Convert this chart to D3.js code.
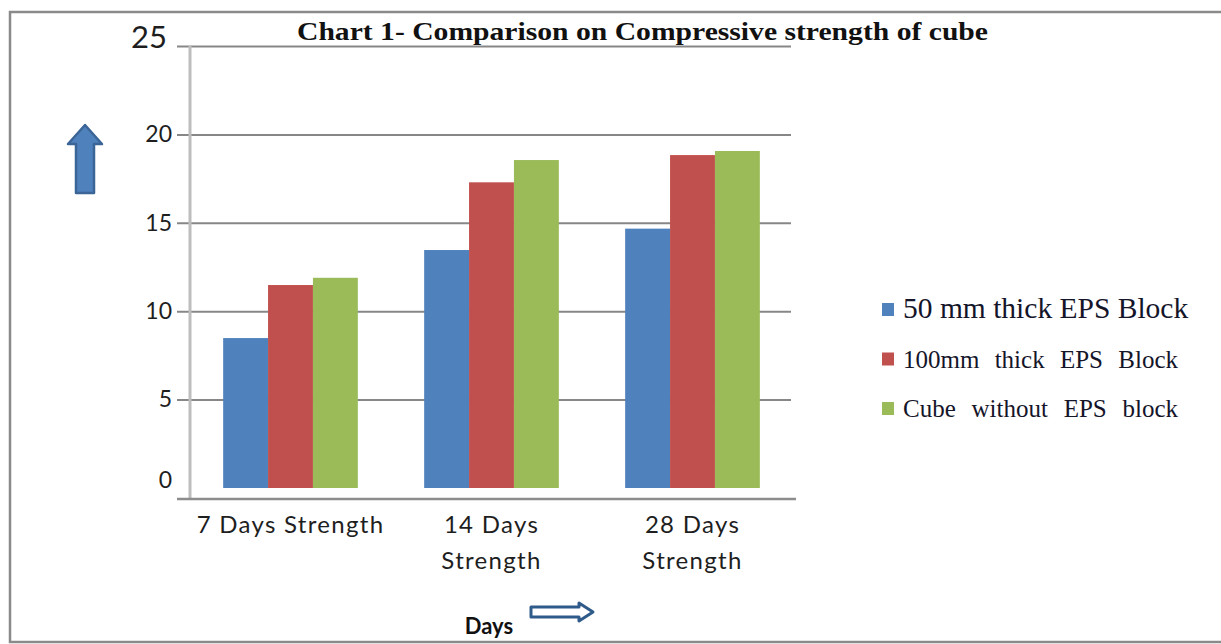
<!DOCTYPE html>
<html>
<head>
<meta charset="utf-8">
<script src="https://cdn.jsdelivr.net/npm/d3@7"></script>
<style>
  html, body { margin: 0; padding: 0; background: #fff; }
  svg { display: block; }
</style>
</head>
<body>
<svg id="chart" width="1221" height="644"></svg>
<script>
// Compressive strength (N/mm²) of cubes at each curing age
const categories = [["7 Days Strength"], ["14 Days", "Strength"], ["28 Days", "Strength"]];
const categoryKeys = ["7d", "14d", "28d"];
const seriesNames = ["50 mm thick EPS Block", "100mm  thick  EPS  Block", "Cube  without  EPS  block"];
const eps50 = [8.48, 13.46, 14.67];
const eps100 = [11.48, 17.29, 18.83];
const noEps = [11.89, 18.55, 19.06];
const seriesValues = [eps50, eps100, noEps];
const yTicks = [0, 5, 10, 15, 20, 25];
const colors = ["#4f81bd", "#c0504d", "#9bbb59"];

const svg = d3.select("#chart");
const labelFont = "Lato, 'Open Sans', sans-serif";
const serifFont = "'Liberation Serif', 'DejaVu Serif', serif";

// outer frame
svg.append("rect")
  .attr("x", 10).attr("y", 12).attr("width", 1225).attr("height", 630)
  .attr("fill", "#fff").attr("stroke", "#8a8a8a").attr("stroke-width", 2.5);

const plot = { left: 190, right: 793, top: 46, zero: 488, axisY: 499 };

const x0 = d3.scaleBand()
  .domain(categoryKeys)
  .range([plot.left, plot.right])
  .paddingInner(0.33)
  .paddingOuter(0.165);

const x1 = d3.scaleBand()
  .domain(d3.range(seriesNames.length))
  .range([0, x0.bandwidth()]);

const y = d3.scaleLinear().domain([0, 25]).range([plot.zero, plot.top]);

// gridlines and tick labels
const yAxis = svg.append("g")
  .attr("transform", `translate(${plot.left},0)`)
  .call(d3.axisLeft(y).tickValues(yTicks).tickSize(0).tickPadding(18));
yAxis.select(".domain").remove();
yAxis.selectAll(".tick line")
  .filter(d => d !== 0)
  .attr("x1", -13).attr("x2", 601)
  .attr("stroke", "#878787").attr("stroke-width", 2);
yAxis.selectAll(".tick text")
  .attr("font-family", labelFont)
  .attr("font-size", 23)
  .attr("fill", "#1e1e1e");
yAxis.selectAll(".tick")
  .filter(d => d === 0)
  .select("text").attr("dy", "-0.02em");
yAxis.selectAll(".tick")
  .filter(d => d === 25)
  .select("text")
  .attr("font-size", 31)
  .attr("x", -23)
  .attr("dy", "0.05em");

// bars
const groups = svg.append("g").selectAll("g")
  .data(categoryKeys)
  .join("g")
  .attr("transform", d => `translate(${x0(d)},0)`);

groups.selectAll("rect")
  .data((d, i) => seriesValues.map((vals, s) => ({ s, v: vals[i] })))
  .join("rect")
  .attr("x", d => x1(d.s))
  .attr("y", d => y(d.v))
  .attr("width", x1.bandwidth())
  .attr("height", d => y(0) - y(d.v))
  .attr("fill", d => colors[d.s]);

// axis lines
svg.append("line")
  .attr("x1", plot.left).attr("x2", plot.left)
  .attr("y1", plot.top).attr("y2", plot.axisY)
  .attr("stroke", "#bdbdbd").attr("stroke-width", 3);
svg.append("line")
  .attr("x1", 177).attr("x2", 796)
  .attr("y1", plot.axisY).attr("y2", plot.axisY)
  .attr("stroke", "#8c8c8c").attr("stroke-width", 2.5);

// category labels
const catLabels = svg.append("g")
  .attr("font-family", labelFont)
  .attr("font-size", 24)
  .attr("letter-spacing", 1.3)
  .attr("fill", "#1e1e1e")
  .attr("text-anchor", "middle");
categories.forEach((lines, i) => {
  const cx = x0(categoryKeys[i]) + x0.bandwidth() / 2;
  const t = catLabels.append("text").attr("x", cx).attr("y", 533);
  lines.forEach((ln, j) => {
    t.append("tspan").attr("x", cx).attr("dy", j === 0 ? 0 : 36).text(ln);
  });
});

// title
svg.append("text")
  .attr("x", 297).attr("y", 40)
  .attr("font-family", serifFont)
  .attr("font-weight", "bold")
  .attr("font-size", 26)
  .attr("fill", "#111")
  .attr("textLength", 691)
  .attr("lengthAdjust", "spacingAndGlyphs")
  .text("Chart 1- Comparison on Compressive strength of cube");

// legend: first entry set at natural spacing, the others justified
const legendSizes = [29.5, 25, 25];
const legendWidths = [null, 275, 275];
const legend = svg.append("g").attr("transform", "translate(882,0)");
seriesNames.forEach((name, i) => {
  const base = 318 + i * 49.5;
  legend.append("rect")
    .attr("x", 0).attr("y", base - 15)
    .attr("width", 12).attr("height", 13)
    .attr("fill", colors[i]);
  const g = legend.append("g")
    .attr("font-family", serifFont)
    .attr("font-size", legendSizes[i])
    .attr("fill", "#15152a");
  if (legendWidths[i] === null) {
    g.append("text").attr("x", 21).attr("y", base).text(name);
    return;
  }
  const words = name.split(/\s+/);
  const nodes = words.map(w => g.append("text").attr("y", base).text(w));
  const widths = nodes.map(n => n.node().getComputedTextLength());
  const gap = (legendWidths[i] - d3.sum(widths)) / (words.length - 1);
  let cx = 21;
  nodes.forEach((n, k) => {
    n.attr("x", cx);
    cx += widths[k] + gap;
  });
});

// axis direction arrows
const arrowLine = d3.line();
const upArrow = [[0, 0], [17, 19], [9, 19], [9, 68], [-9, 68], [-9, 19], [-17, 19]];
svg.append("path")
  .attr("transform", "translate(85,125)")
  .attr("d", arrowLine(upArrow) + "Z")
  .attr("fill", "#4f81bd")
  .attr("stroke", "#3b6596")
  .attr("stroke-width", 2.5)
  .attr("stroke-linejoin", "round");

const rightArrow = [[0, -5], [48, -5], [48, -9], [62, 0], [48, 9], [48, 5], [0, 5]];
svg.append("path")
  .attr("transform", "translate(531,612)")
  .attr("d", arrowLine(rightArrow) + "Z")
  .attr("fill", "#fff")
  .attr("stroke", "#2f5b8a")
  .attr("stroke-width", 3)
  .attr("stroke-linejoin", "round");

svg.append("text")
  .attr("x", 489).attr("y", 634)
  .attr("text-anchor", "middle")
  .attr("font-family", labelFont)
  .attr("font-weight", "bold")
  .attr("font-size", 22)
  .attr("fill", "#111")
  .text("Days");
</script>
</body>
</html>
